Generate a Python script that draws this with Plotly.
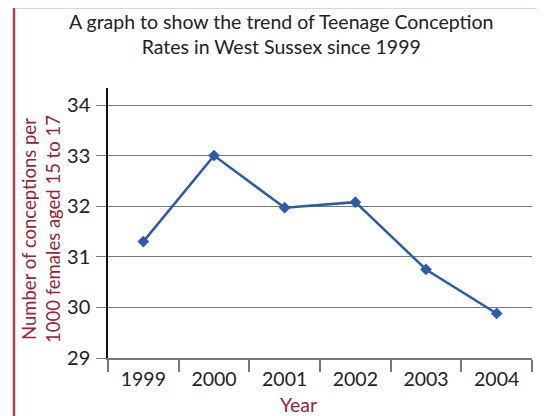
import plotly.graph_objects as go

years = ["1999", "2000", "2001", "2002", "2003", "2004"]
rates = [31.3, 33.0, 31.97, 32.08, 30.75, 29.88]
y_ticks = [29, 30, 31, 32, 33, 34]

OFF = 8  # page body margin
W, H = 545 - OFF, 416 - OFF
L, R, T, B = 108 - OFF, 13, 88 - OFF, 58
pw, ph = W - L - R, H - T - B

FONT = "Lato"
RED = "#9b2335"

fig = go.Figure()
fig.add_trace(go.Scatter(
    x=years, y=rates, mode="lines+markers",
    line=dict(color="#2a5caa", width=2.5),
    marker=dict(symbol="diamond", size=9, color="#2a5caa"),
    hoverinfo="skip",
))

def px_x(p):
    return (p - OFF - L) / pw

def px_y(p):
    return (H - B - (p - OFF)) / ph

fig.update_layout(
    width=W, height=H,
    margin=dict(l=L, r=R, t=T, b=B, pad=0),
    paper_bgcolor="white", plot_bgcolor="white",
    showlegend=False,
    font=dict(family=FONT, color="#222", size=19),
    xaxis=dict(
        type="category", showgrid=False, showline=True, linecolor="#777", linewidth=1.5,
        ticks="outside", tickson="boundaries", ticklen=12, tickcolor="#777", tickwidth=1.5,
        tickfont=dict(family=FONT, size=19.5, color="#222"),
        ticklabelstandoff=3,
        range=[-0.5, 5.5], fixedrange=True,
    ),
    yaxis=dict(
        range=[29, 34.336], tickvals=y_ticks, ticktext=[str(v) for v in y_ticks],
        showgrid=True, gridcolor="#777", gridwidth=1.2,
        showline=True, linecolor="#111", linewidth=1.5,
        ticks="outside", ticklen=10, tickcolor="#777", tickwidth=1.2,
        tickfont=dict(family=FONT, size=20, color="#222"),
        ticklabelstandoff=2,
        zeroline=False, fixedrange=True,
    ),
    annotations=[
        dict(text="A graph to show the trend of Teenage Conception<br>Rates in West Sussex since 1999",
             xref="paper", yref="paper", x=px_x(281), y=px_y(8),
             xanchor="center", yanchor="top", showarrow=False,
             font=dict(family=FONT, size=19.5, color="#222")),
        dict(text="Number of conceptions per<br>1000 females aged 15 to 17",
             xref="paper", yref="paper", x=px_x(41), y=px_y(229),
             xanchor="center", yanchor="middle", textangle=-90, showarrow=False,
             font=dict(family=FONT, size=18.5, color=RED)),
        dict(text="Year", xref="paper", yref="paper", x=px_x(298), y=px_y(404),
             xanchor="center", yanchor="middle", showarrow=False,
             font=dict(family=FONT, size=19.5, color=RED)),
    ],
    shapes=[
        dict(type="line", xref="paper", yref="paper",
             x0=px_x(14), x1=px_x(14), y0=px_y(6), y1=px_y(430),
             line=dict(color="#b0404e", width=2.5)),
        dict(type="line", xref="paper", yref="paper",
             x0=px_x(13), x1=px_x(560), y0=px_y(7), y1=px_y(7),
             line=dict(color="#b0404e", width=2.5)),
    ],
)

fig.write_html("out.html")
